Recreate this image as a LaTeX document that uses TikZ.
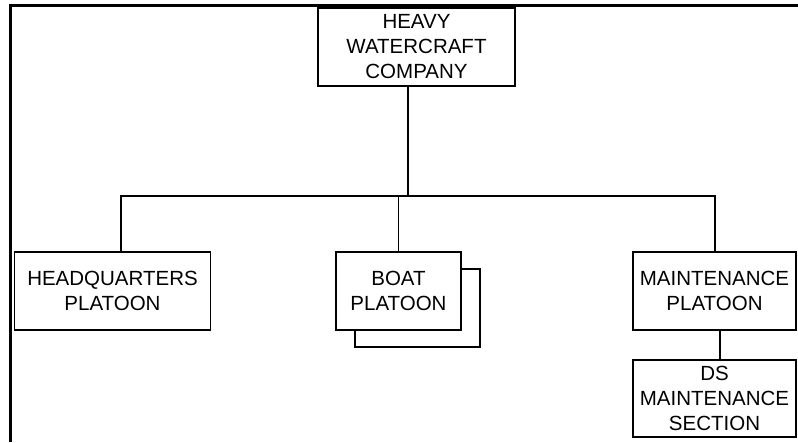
\documentclass[tikz,border=0pt]{standalone}
\usepackage{fontspec}
\setmainfont{Liberation Sans}
\begin{document}
\begin{tikzpicture}[x=1pt, y=-1pt, line join=miter]
\tikzset{
  unit/.style={draw, line width=1.6pt, fill=white, align=center, inner sep=0pt,
    font=\fontsize{20.5}{25}\selectfont},
  conn/.style={line width=1.1pt}
}
\useasboundingbox (0,0) rectangle (798,442);
% Compania y pelotones
\node[unit, minimum width=197pt, minimum height=78pt] (company) at (416.5,47) {HEAVY\\WATERCRAFT\\COMPANY};
\node[unit, minimum width=196pt, minimum height=78pt] (hq) at (112.5,291) {HEADQUARTERS\\PLATOON};
\node[unit, minimum width=125pt, minimum height=78pt] (boatbk) at (417.5,308) {};
\node[unit, minimum width=125pt, minimum height=78pt] (boat) at (398.5,291) {BOAT\\PLATOON};
\node[unit, minimum width=163pt, minimum height=78pt] (maint) at (714.5,291) {MAINTENANCE\\PLATOON};
\node[unit, minimum width=163pt, minimum height=77pt] (ds) at (714.5,398.5) {DS\\MAINTENANCE\\SECTION};
% Lineas de mando
\coordinate (drop) at (408,196);
\coordinate (bus w) at (121,196);
\coordinate (bus e) at (715,196);
\coordinate (link) at (720,345);
\draw[conn] (company.south -| drop) -- (drop);
\draw[conn] (hq.north -| bus w) -- (bus w) -- (bus e) -- (maint.north -| bus e);
\draw[conn] (boat.north) -- (boat.north |- bus w);
\draw[conn] (maint.south -| link) -- (ds.north -| link);
% Marco de la hoja
\draw[line width=3pt] (10.5,442) -- (10.5,5.5) -- (798,5.5);
\end{tikzpicture}
\end{document}
